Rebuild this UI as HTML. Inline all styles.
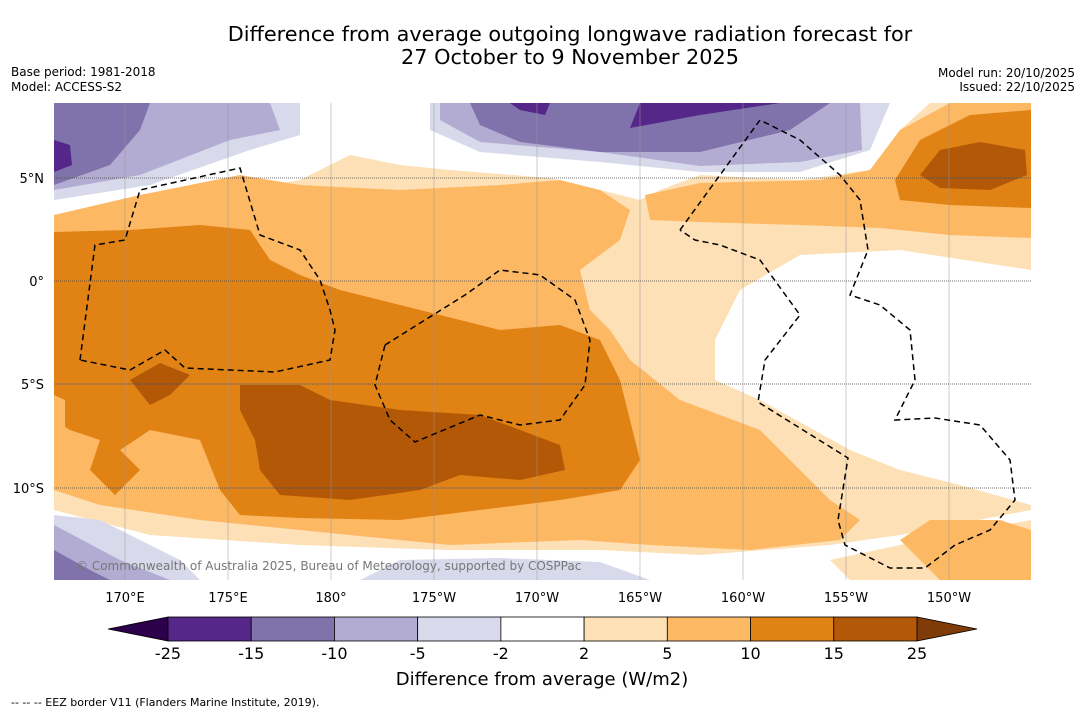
<!DOCTYPE html>
<html><head><meta charset="utf-8">
<style>
body{margin:0;background:#fff;width:1085px;height:713px;overflow:hidden;font-family:"DejaVu Sans","Liberation Sans",sans-serif}
svg{position:absolute;left:0;top:0}
</style></head>
<body>
<svg id="fig" width="1085" height="713">
<text x="570" y="41" text-anchor="middle" font-size="20.8">Difference from average outgoing longwave radiation forecast for</text>
<text x="570" y="64" text-anchor="middle" font-size="20.8">27 October to 9 November 2025</text>
<text x="11" y="76" font-size="12">Base period: 1981-2018</text>
<text x="11" y="91" font-size="12">Model: ACCESS-S2</text>
<text x="1075" y="77" font-size="12" text-anchor="end">Model run: 20/10/2025</text>
<text x="1075" y="91" font-size="12" text-anchor="end">Issued: 22/10/2025</text>

<defs><clipPath id="mc"><rect x="54" y="103" width="977" height="477"/></clipPath></defs>
<g clip-path="url(#mc)">
<rect x="54" y="103" width="977" height="477" fill="#fee0b6"/>
<path fill="#fff" d="M54,103 L930,103 L900,130 L870,170 L800,180 L700,175 L660,190 L640,200 L600,190 L550,178 L450,170 L400,165 L350,155 L300,180 L150,205 L54,215 Z"/>
<path fill="#fff" d="M740,290 L800,255 L900,250 L1031,270 L1031,505 L960,485 L900,470 L850,450 L760,400 L715,380 L715,340 Z"/>
<path fill="#fff" d="M54,510 L150,535 L300,545 L450,550 L600,550 L700,555 L830,545 L900,535 L1031,510 L1031,580 L54,580 Z"/>
<path fill="#fee0b6" d="M830,560 L900,545 L1031,520 L1031,580 L850,580 Z"/>
<path fill="#d8daeb" d="M54,103 L300,103 L300,135 L250,150 L150,185 L54,200 Z"/>
<path fill="#b2abd2" d="M54,103 L270,103 L280,130 L230,140 L140,175 L54,190 Z"/>
<path fill="#8073ac" d="M54,103 L150,103 L140,130 L110,165 L54,185 Z"/>
<path fill="#542788" d="M54,140 L70,145 L72,165 L54,172 Z"/>
<path fill="#d8daeb" d="M430,103 L890,103 L870,150 L800,172 L700,172 L600,162 L480,152 L430,130 Z"/>
<path fill="#b2abd2" d="M440,103 L860,103 L862,150 L800,162 L700,166 L600,152 L480,142 L440,120 Z"/>
<path fill="#8073ac" d="M470,103 L830,103 L790,130 L700,152 L600,152 L520,142 L480,125 Z"/>
<path fill="#542788" d="M510,103 L550,103 L545,115 L520,110 Z M630,128 L700,115 L780,103 L640,103 Z"/>
<path fill="#fdb863" d="M54,215 L140,195 L240,175 L300,185 L400,190 L500,185 L560,180 L600,190 L630,210 L620,240 L580,270 L590,310 L610,330 L630,360 L680,400 L760,430 L800,470 L830,500 L860,520 L840,540 L750,550 L650,545 L580,540 L450,545 L300,530 L200,520 L100,505 L54,490 Z"/>
<path fill="#e08214" d="M54,232 L130,230 L200,225 L250,230 L270,260 L300,275 L340,290 L400,305 L460,320 L500,330 L560,325 L600,340 L620,380 L630,420 L640,460 L620,490 L560,500 L480,510 L400,520 L300,518 L240,515 L220,490 L200,440 L150,430 L120,450 L140,470 L115,495 L90,470 L100,440 L70,430 L54,420 Z"/>
<path fill="#fdb863" d="M54,395 L65,400 L65,430 L54,432 Z"/>
<path fill="#b35806" d="M240,385 L300,385 L330,400 L400,410 L480,415 L520,430 L560,445 L565,470 L520,480 L460,475 L420,490 L350,500 L280,495 L260,470 L255,440 L240,410 Z M130,380 L160,363 L190,375 L170,395 L150,405 Z"/>
<path fill="#fdb863" d="M645,195 L700,183 L820,180 L870,170 L900,130 L950,103 L1031,103 L1031,238 L950,235 L880,228 L800,225 L700,222 L650,220 Z"/>
<path fill="#e08214" d="M895,180 L920,140 L970,115 L1031,110 L1031,208 L950,205 L900,200 Z"/>
<path fill="#b35806" d="M920,175 L940,150 L980,142 L1025,150 L1027,175 L990,190 L940,188 Z"/>
<path fill="#fdb863" d="M900,540 L930,520 L1000,520 L1031,530 L1031,580 L940,580 L920,560 Z"/>
<path fill="#d8daeb" d="M54,515 L100,520 L180,560 L200,580 L54,580 Z M360,580 L400,560 L500,558 L600,562 L650,580 Z"/>
<path fill="#b2abd2" d="M54,525 L120,560 L170,580 L54,580 Z"/>
<path fill="#8073ac" d="M54,550 L90,570 L110,580 L54,580 Z"/>
<g stroke="#999" stroke-width="0.5">
<line x1="125" y1="103" x2="125" y2="580"/><line x1="228" y1="103" x2="228" y2="580"/><line x1="331" y1="103" x2="331" y2="580"/><line x1="434" y1="103" x2="434" y2="580"/><line x1="537" y1="103" x2="537" y2="580"/><line x1="640" y1="103" x2="640" y2="580"/><line x1="743" y1="103" x2="743" y2="580"/><line x1="846" y1="103" x2="846" y2="580"/><line x1="949" y1="103" x2="949" y2="580"/>
</g>
<g stroke="#444" stroke-width="0.7" stroke-dasharray="1,1">
<line x1="54" y1="178" x2="1031" y2="178"/><line x1="54" y1="281" x2="1031" y2="281"/><line x1="54" y1="384" x2="1031" y2="384"/><line x1="54" y1="488" x2="1031" y2="488"/>
</g>
<g fill="none" stroke="#000" stroke-width="1.5" stroke-dasharray="6,4">
<path d="M80,360 L95,245 L125,240 L140,190 L240,168 L260,235 L300,250 L320,280 L330,310 L335,330 L330,360 L275,372 L185,368 L165,350 L130,370 L80,360"/>
<path d="M385,345 L465,295 L500,270 L540,275 L575,300 L590,340 L585,385 L560,420 L520,425 L480,415 L415,442 L390,420 L375,385 L385,345"/>
<path d="M680,230 L760,120 L800,140 L840,175 L860,200 L868,250 L850,295 L880,305 L910,330 L915,380 L895,420 L935,418 L980,425 L1010,460 L1015,500 L990,530 L955,545 L925,568 L890,568 L845,545 L838,520 L848,458 L758,402 L765,360 L800,315 L760,260 L720,245 L695,240 L680,230"/>
</g>
<text x="76" y="570" font-size="12" fill="#777">© Commonwealth of Australia 2025, Bureau of Meteorology, supported by COSPPac</text>
</g>
<g font-size="13">
<text x="44" y="183" text-anchor="end">5°N</text><text x="44" y="286" text-anchor="end">0°</text><text x="44" y="389" text-anchor="end">5°S</text><text x="44" y="493" text-anchor="end">10°S</text>
<text x="125" y="602" text-anchor="middle">170°E</text><text x="228" y="602" text-anchor="middle">175°E</text><text x="331" y="602" text-anchor="middle">180°</text><text x="434" y="602" text-anchor="middle">175°W</text><text x="537" y="602" text-anchor="middle">170°W</text><text x="640" y="602" text-anchor="middle">165°W</text><text x="743" y="602" text-anchor="middle">160°W</text><text x="846" y="602" text-anchor="middle">155°W</text><text x="949" y="602" text-anchor="middle">150°W</text>
</g>
<g id="cbar"></g>
<text x="542" y="685" text-anchor="middle" font-size="18">Difference from average (W/m2)</text>
<text x="11" y="706" font-size="11">-- -- -- EEZ border V11 (Flanders Marine Institute, 2019).</text>
</svg>
<script>
const levels=["-25","-15","-10","-5","-2","2","5","10","15","25"];
const binColors=["#542788","#8073ac","#b2abd2","#d8daeb","#ffffff","#fee0b6","#fdb863","#e08214","#b35806"];
const extendColors=["#2d004b","#7f3b08"];
const ns="http://www.w3.org/2000/svg",cb=document.getElementById('cbar');
const x0=168,x1=917,y0=617,h=24,w=(x1-x0)/binColors.length;
function mk(t,a){const e=document.createElementNS(ns,t);for(const k in a)e.setAttribute(k,a[k]);cb.appendChild(e);return e;}
let lo=mk('polygon',{points:`108,${y0+h/2} ${x0},${y0} ${x0},${y0+h}`,fill:extendColors[0],stroke:'#000','stroke-width':0.8});


let hi=mk('polygon',{points:`977,${y0+h/2} ${x1},${y0} ${x1},${y0+h}`,fill:extendColors[1],stroke:'#000','stroke-width':0.8});


binColors.forEach((c,i)=>{const r=mk('rect',{x:x0+i*w,y:y0,width:w,height:h,fill:c,stroke:'#000','stroke-width':0.8});

});
levels.forEach((l,i)=>{const t=mk('text',{x:x0+i*w,y:659,'text-anchor':'middle','font-size':16});t.textContent=l;

});
</script>
</body></html>
